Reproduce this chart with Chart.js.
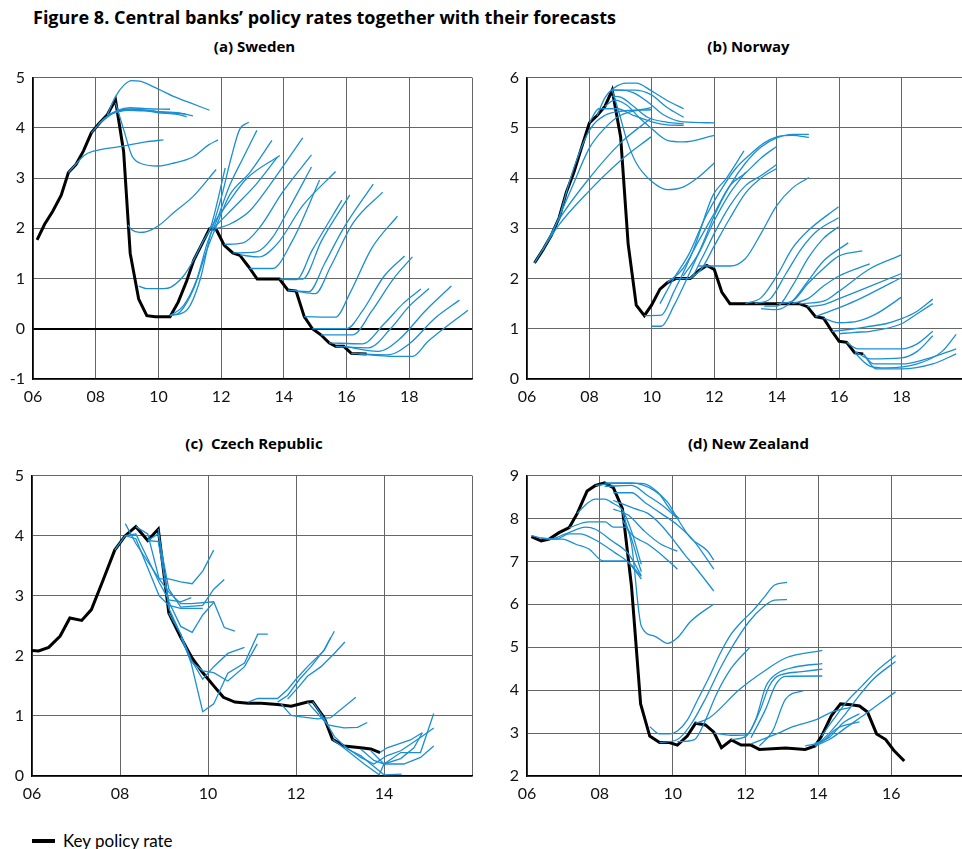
<!DOCTYPE html>
<html>
<head>
<meta charset="utf-8">
<script src="https://cdn.jsdelivr.net/npm/chart.js@4.4.1/dist/chart.umd.min.js"></script>
<style>
  html, body { margin: 0; padding: 0; background: #fff; width: 962px; height: 849px; overflow: hidden; }
  body { position: relative; font-family: Lato, "Open Sans", sans-serif; color: #000; }
  canvas { position: absolute; }
  .fig-title { position: absolute; left: 33px; top: 5px; font-family: "Open Sans", sans-serif; font-size: 18px; font-weight: bold; white-space: nowrap; }
  .panel-title { position: absolute; text-align: center; font-family: "Open Sans", sans-serif; font-size: 15px; font-weight: bold; white-space: pre; }
  #legend { position: absolute; left: 32px; top: 830px; font-size: 17px; display: flex; align-items: center; }
  #legend span.swatch { display: inline-block; width: 23px; height: 4px; background: #000; margin-right: 8px; }
</style>
</head>
<body>
<div class="fig-title">Figure 8. Central banks’ policy rates together with their forecasts</div>
<div class="panel-title" style="left:33px;width:443px;top:36px">(a) Sweden</div>
<div class="panel-title" style="left:527px;width:443px;top:36px">(b) Norway</div>
<div class="panel-title" style="left:32px;width:444px;top:433px">(c)  Czech Republic</div>
<div class="panel-title" style="left:527px;width:443px;top:433px">(d) New Zealand</div>

<canvas id="chartSe" width="480" height="350" style="left:0;top:60px"></canvas>
<canvas id="chartNo" width="482" height="350" style="left:490px;top:60px"></canvas>
<canvas id="chartCz" width="480" height="350" style="left:0;top:458px"></canvas>
<canvas id="chartNz" width="482" height="350" style="left:490px;top:458px"></canvas>

<div id="legend"><span class="swatch"></span>Key policy rate</div>

<script>
// ─── DATA ─────────────────────────────────────────────────────────
// x = year (6 = 2006), y = rate in per cent

// labelled years on each x axis
const seXLabels = [6, 8, 10, 12, 14, 16, 18];
const noXLabels = [6, 8, 10, 12, 14, 16, 18];
const czXLabels = [6, 8, 10, 12, 14];
const nzXLabels = [6, 8, 10, 12, 14, 16];

// (a) Sweden
const seKey = [
  [6.13,1.77],[6.37,2.08],[6.63,2.34],[6.9,2.66],[7.13,3.11],[7.37,3.27],[7.61,3.54],[7.86,3.9],
  [8.1,4.08],[8.37,4.26],[8.63,4.56],[8.89,3.53],[9.1,1.5],[9.37,0.59],[9.63,0.26],[9.9,0.24],
  [10.37,0.24],[10.63,0.53],[10.9,0.95],[11.13,1.37],[11.39,1.69],[11.63,1.99],[11.84,1.98],
  [12.1,1.66],[12.37,1.51],[12.6,1.46],[12.87,1.24],[13.15,0.99],[13.86,0.99],[14.13,0.77],
  [14.39,0.75],[14.65,0.24],[14.91,0.0],[15.18,-0.12],[15.44,-0.28],[15.65,-0.35],[15.91,-0.35],
  [16.15,-0.49],[16.64,-0.5]
];
const seForecasts = [
  [[8.37,4.26],[8.63,4.62],[8.9,4.85],[9.15,4.94],[9.4,4.93],[9.9,4.8],[10.5,4.62],[11.0,4.5],[11.63,4.35]],
  [[7.86,3.9],[8.3,4.2],[8.7,4.35],[9.1,4.4],[9.6,4.38],[10.37,4.37]],
  [[8.1,4.08],[8.5,4.28],[9.0,4.37],[9.6,4.35],[10.3,4.3],[10.84,4.28]],
  [[8.1,4.08],[8.6,4.3],[9.2,4.37],[10.0,4.3],[10.6,4.27],[10.9,4.22]],
  [[8.37,4.26],[9.0,4.35],[9.8,4.33],[10.6,4.3],[11.1,4.24]],
  [[7.13,3.11],[7.4,3.3],[7.63,3.45],[7.9,3.53],[8.8,3.63],[9.6,3.72],[10.16,3.76]],
  [[8.63,4.5],[8.9,3.95],[9.15,3.45],[9.4,3.3],[10.0,3.24],[10.5,3.3],[11.1,3.42],[11.6,3.66],[11.9,3.76]],
  [[9.03,2.07],[9.15,1.97],[9.4,1.92],[9.6,1.93],[10.0,2.05],[10.5,2.32],[11.1,2.63],[11.84,3.17]],
  [[9.37,0.85],[9.63,0.8],[10.16,0.8],[10.4,0.83],[10.8,1.05],[11.12,1.37],[11.43,1.75],[11.66,2.01],[12.13,3.2]],
  [[10.37,0.26],[10.9,0.37],[11.33,0.98],[11.64,1.82],[12.0,2.6],[12.33,3.43],[12.59,3.97],[12.88,4.11]],
  [[10.37,0.26],[10.8,0.46],[11.22,0.98],[11.58,1.75],[11.85,2.14],[12.27,2.85],[12.7,3.4],[13.14,3.95]],
  [[10.37,0.26],[10.7,0.34],[11.12,0.79],[11.54,1.56],[11.85,2.05],[12.27,2.66],[12.9,3.1],[13.62,3.75]],
  [[11.63,1.99],[12.17,2.46],[12.8,2.98],[13.87,3.45]],
  [[11.75,2.0],[12.38,2.4],[13.12,2.88],[13.8,3.42]],
  [[11.84,1.99],[12.27,2.08],[12.9,2.34],[13.54,2.85],[14.6,3.8]],
  [[12.1,1.68],[12.7,1.71],[13.22,2.01],[13.96,2.72],[14.88,3.46]],
  [[12.37,1.51],[13.12,1.53],[13.64,1.82],[14.17,2.4],[14.88,3.22]],
  [[12.6,1.47],[13.2,1.43],[13.8,1.7],[14.6,2.45],[15.65,3.13]],
  [[12.9,1.2],[13.64,1.2],[14.27,1.75],[15.14,2.96]],
  [[13.86,0.99],[14.4,0.98],[14.9,1.56],[15.85,2.56]],
  [[13.9,0.99],[14.6,0.99],[15.2,1.75],[16.1,2.66]],
  [[14.13,0.77],[14.8,0.74],[15.3,1.3],[15.9,2.0],[16.85,2.88]],
  [[14.39,0.75],[15.0,0.7],[15.5,1.25],[16.2,2.1],[17.15,2.72]],
  [[14.65,0.24],[15.65,0.23],[16.1,0.7],[16.8,1.6],[17.62,2.24]],
  [[14.91,0.0],[16.0,0.0],[16.5,0.35],[17.2,1.05],[17.85,1.45]],
  [[15.18,-0.12],[16.2,-0.12],[16.8,0.35],[17.5,1.0],[18.1,1.43]],
  [[15.44,-0.28],[16.5,-0.3],[17.2,0.1],[17.8,0.5],[18.37,0.79]],
  [[15.65,-0.35],[16.7,-0.38],[17.4,0.0],[18.0,0.45],[18.63,0.8]],
  [[15.91,-0.35],[17.0,-0.45],[17.7,-0.2],[18.5,0.35],[19.34,0.85]],
  [[16.15,-0.49],[17.3,-0.52],[18.0,-0.3],[18.8,0.2],[19.6,0.57]],
  [[16.4,-0.5],[17.5,-0.55],[18.1,-0.55],[18.6,-0.25],[19.87,0.37]]
];

// (b) Norway
const noKey = [
  [6.24,2.31],[6.5,2.56],[6.77,2.85],[7.03,3.21],[7.26,3.72],[7.5,4.11],[7.74,4.59],[8.0,5.1],
  [8.24,5.24],[8.5,5.43],[8.73,5.75],[9.0,4.82],[9.24,2.69],[9.5,1.47],[9.76,1.26],[9.99,1.47],
  [10.26,1.79],[10.5,1.92],[10.76,2.0],[11.23,2.0],[11.49,2.15],[11.76,2.26],[12.0,2.18],
  [12.24,1.73],[12.5,1.5],[14.72,1.5],[14.98,1.44],[15.24,1.24],[15.5,1.21],[15.77,0.95],
  [16.0,0.75],[16.24,0.73],[16.5,0.52],[16.77,0.5]
];
const noForecasts = [
  [[8.24,5.24],[8.5,5.6],[8.8,5.8],[9.2,5.89],[9.5,5.89],[10.0,5.73],[10.5,5.54],[11.02,5.38]],
  [[8.73,5.75],[9.45,5.75],[9.97,5.66],[10.5,5.4],[11.02,5.21]],
  [[8.73,5.63],[9.0,5.61],[9.35,5.46],[9.86,5.21],[10.5,5.11],[11.02,5.08]],
  [[8.0,5.1],[8.3,5.38],[8.9,5.38],[9.4,5.25],[10.0,5.12],[10.5,5.06],[11.02,5.05]],
  [[8.73,5.75],[8.95,5.3],[9.2,4.75],[9.5,4.3],[10.0,3.93],[10.5,3.77],[11.0,3.82],[11.5,4.02],[12.0,4.3]],
  [[8.5,5.43],[8.8,5.55],[9.2,5.45],[9.6,5.2],[10.0,4.98],[10.5,4.75],[11.0,4.72],[12.0,4.85]],
  [[8.73,5.75],[9.0,5.75],[9.4,5.7],[9.9,5.5],[10.4,5.25],[11.0,5.12],[12.0,5.1]],
  [[6.24,2.31],[7.0,3.05],[8.0,3.75],[9.0,4.35],[9.97,4.82]],
  [[6.5,2.56],[7.0,3.15],[8.0,4.0],[9.0,4.7],[9.97,5.19]],
  [[6.77,2.85],[7.5,3.9],[8.0,4.6],[8.5,5.0],[9.0,5.25],[9.97,5.4]],
  [[7.03,3.21],[7.5,4.2],[8.0,4.95],[8.5,5.25],[9.0,5.33],[9.97,5.36]],
  [[9.76,1.26],[10.3,1.27],[10.7,1.73],[11.33,2.57],[11.96,3.66],[12.38,3.99],[12.95,4.54]],
  [[9.99,1.05],[10.3,1.05],[10.7,1.45],[11.2,2.1],[11.6,2.65],[12.0,3.25],[12.5,3.85],[13.0,4.3],[13.5,4.62],[14.0,4.8],[14.5,4.87],[15.03,4.87]],
  [[10.26,1.5],[10.7,2.0],[11.2,2.5],[11.7,3.2],[12.2,3.75],[12.7,4.2],[13.2,4.5],[13.6,4.7],[14.0,4.82],[14.5,4.85],[15.03,4.81]],
  [[10.5,1.92],[11.0,2.2],[11.5,2.75],[12.0,3.3],[12.5,3.85],[13.0,4.1],[13.5,4.4],[14.0,4.63]],
  [[10.76,2.0],[11.2,2.0],[11.6,2.4],[12.0,2.9],[12.5,3.45],[13.0,3.85],[13.5,4.05],[14.0,4.27]],
  [[11.23,2.0],[11.6,2.2],[12.0,2.65],[12.5,3.2],[13.0,3.7],[13.5,4.0],[14.0,4.19]],
  [[11.0,2.05],[11.5,2.5],[12.0,3.15],[12.5,3.7],[13.01,4.12]],
  [[11.49,2.25],[12.5,2.25],[13.0,2.4],[13.5,2.9],[14.0,3.45],[14.5,3.8],[15.03,4.01]],
  [[13.0,1.5],[13.5,1.62],[14.0,2.05],[14.5,2.6],[15.0,2.95],[15.98,3.43]],
  [[13.3,1.5],[13.8,1.6],[14.3,2.1],[14.8,2.6],[15.3,2.95],[15.98,3.21]],
  [[13.6,1.45],[14.0,1.45],[14.5,1.85],[15.0,2.4],[15.5,2.8],[15.98,3.03]],
  [[13.5,1.4],[14.0,1.38],[14.5,1.55],[15.0,1.95],[15.5,2.35],[16.29,2.71]],
  [[14.0,1.5],[14.5,1.55],[15.0,1.9],[15.5,2.2],[16.0,2.45],[16.74,2.55]],
  [[14.5,1.5],[15.0,1.6],[15.5,1.85],[16.0,2.05],[16.98,2.29]],
  [[14.72,1.5],[15.5,1.55],[16.0,1.75],[17.0,2.2],[18.0,2.47]],
  [[14.98,1.44],[15.5,1.48],[16.0,1.6],[17.0,1.85],[18.0,2.1]],
  [[15.24,1.24],[16.0,1.42],[16.5,1.55],[17.0,1.7],[18.0,2.02]],
  [[15.5,1.21],[16.0,1.12],[16.6,1.15],[17.2,1.3],[18.0,1.63]],
  [[15.77,0.95],[16.5,1.0],[17.0,1.05],[17.5,1.1],[18.0,1.2],[18.5,1.35],[19.0,1.59]],
  [[16.0,0.9],[16.5,0.93],[17.0,0.95],[18.0,1.1],[18.5,1.3],[19.0,1.5]],
  [[16.24,0.73],[16.6,0.6],[17.0,0.6],[18.0,0.6],[18.5,0.7],[19.0,0.95]],
  [[16.5,0.55],[17.0,0.4],[18.0,0.42],[18.5,0.55],[19.0,0.86]],
  [[16.5,0.52],[17.0,0.25],[17.5,0.22],[18.5,0.3],[19.3,0.55],[19.75,0.89]],
  [[16.77,0.5],[17.1,0.3],[18.0,0.3],[18.8,0.4],[19.75,0.6]],
  [[16.77,0.5],[17.2,0.2],[18.0,0.2],[19.0,0.3],[19.75,0.5]]
];

// (c) Czech Republic
const czKey = [
  [6.0,2.09],[6.15,2.08],[6.38,2.14],[6.64,2.33],[6.86,2.63],[7.13,2.59],[7.35,2.77],[7.61,3.25],
  [7.88,3.76],[8.12,4.0],[8.36,4.15],[8.63,3.92],[8.87,4.11],[9.11,2.71],[9.38,2.31],[9.64,1.96],
  [9.86,1.74],[10.13,1.5],[10.35,1.31],[10.61,1.23],[10.91,1.21],[11.21,1.21],[11.58,1.19],
  [11.89,1.16],[12.26,1.23],[12.38,1.24],[12.64,0.97],[12.83,0.61],[13.09,0.5],[13.47,0.47],
  [13.7,0.45],[13.91,0.39]
];
const czForecasts = [
  [[8.12,4.2],[8.36,3.87],[8.89,3.28],[9.11,3.28],[9.38,3.23],[9.64,3.2],[9.88,3.41],[10.13,3.76]],
  [[7.88,3.76],[8.12,4.0],[8.36,4.03],[8.89,3.22],[9.11,2.93],[9.38,2.9],[9.62,2.97]],
  [[8.12,4.0],[8.36,3.95],[8.89,3.0],[9.11,2.84],[9.38,2.79],[9.88,2.79]],
  [[8.36,4.15],[8.63,4.03],[8.89,3.28],[9.11,3.06],[9.38,2.87],[9.62,2.87],[10.13,2.9],[10.37,2.47],[10.61,2.41]],
  [[8.63,3.92],[8.87,4.03],[9.11,3.11],[9.38,2.81],[9.88,2.84],[10.13,3.11],[10.37,3.27]],
  [[8.63,3.92],[8.87,3.9],[9.11,2.9],[9.38,2.49],[9.64,2.39],[9.88,2.68],[10.13,2.89]],
  [[8.87,4.11],[9.11,2.79],[9.38,2.36],[9.62,1.93],[9.88,1.61],[10.13,1.82],[10.45,2.04],[10.83,2.14]],
  [[9.11,2.71],[9.38,2.36],[9.62,1.87],[9.88,1.07],[10.13,1.2],[10.45,1.71],[10.83,1.88],[11.13,2.36],[11.36,2.36]],
  [[9.38,2.31],[9.62,1.9],[9.88,1.75],[10.13,1.72],[10.45,1.58],[10.83,1.82],[11.12,2.2]],
  [[10.91,1.23],[11.13,1.29],[11.58,1.29],[11.81,1.44],[12.0,1.61],[12.26,1.82],[12.64,2.09],[12.87,2.41]],
  [[11.58,1.23],[11.81,1.34],[12.08,1.61],[12.34,1.82],[12.63,2.09],[12.79,2.31]],
  [[11.81,1.28],[12.08,1.5],[12.26,1.66],[12.57,1.82],[12.87,2.04],[13.11,2.23]],
  [[11.66,1.2],[11.89,1.01],[12.08,0.99],[12.49,0.95],[12.79,0.97],[13.36,1.31]],
  [[12.26,1.23],[12.49,1.04],[12.72,0.85],[13.09,0.8],[13.4,0.81],[13.62,0.89]],
  [[12.38,1.24],[12.64,0.95],[12.87,0.66],[13.17,0.45],[13.47,0.34],[13.7,0.2],[14.0,0.02],[14.4,0.03]],
  [[12.83,0.61],[13.17,0.42],[13.55,0.2],[13.89,0.02],[14.0,0.2],[14.38,0.39],[14.83,0.39],[15.13,1.04]],
  [[13.09,0.5],[13.47,0.31],[13.77,0.2],[14.07,0.34],[14.38,0.42],[14.83,0.64],[15.13,0.8]],
  [[13.47,0.45],[13.77,0.26],[14.0,0.2],[14.38,0.29],[14.68,0.47],[14.87,0.72]],
  [[13.7,0.42],[14.0,0.2],[14.45,0.2],[14.83,0.31],[15.13,0.5]],
  [[13.91,0.39],[14.07,0.47],[14.6,0.6],[14.87,0.72]]
];

// (d) New Zealand
const nzKey = [
  [6.12,7.58],[6.39,7.48],[6.61,7.52],[6.88,7.67],[7.16,7.79],[7.38,8.12],[7.65,8.64],[7.88,8.77],
  [8.13,8.83],[8.37,8.72],[8.62,8.23],[8.87,6.42],[9.12,3.68],[9.37,2.93],[9.64,2.78],[9.91,2.78],
  [10.13,2.72],[10.4,2.93],[10.63,3.23],[10.9,3.19],[11.13,3.02],[11.34,2.66],[11.61,2.84],
  [11.88,2.72],[12.15,2.72],[12.38,2.62],[13.1,2.65],[13.64,2.62],[13.91,2.7],[14.09,2.93],
  [14.36,3.41],[14.61,3.68],[14.9,3.66],[15.13,3.63],[15.35,3.49],[15.6,2.98],[15.85,2.85],
  [16.07,2.6],[16.36,2.35]
];
const nzForecasts = [
  [[7.88,8.77],[8.42,8.82],[9.14,8.82],[9.59,8.61],[9.95,8.19],[10.18,8.0]],
  [[8.13,8.83],[8.87,8.83],[9.5,8.65],[9.86,8.38],[10.13,8.0],[10.49,7.55],[10.95,7.25],[11.13,7.03]],
  [[8.13,8.75],[8.87,8.77],[9.32,8.53],[9.77,8.27],[10.13,8.0]],
  [[8.37,8.6],[8.87,8.6],[9.23,8.38],[9.68,8.12],[10.13,7.85],[10.58,7.48],[11.13,6.82]],
  [[8.37,8.42],[8.96,8.23],[9.32,8.12],[9.68,7.85],[10.04,7.48],[10.31,7.18],[10.68,6.8],[11.13,6.31]],
  [[8.37,8.22],[8.78,8.08],[9.23,7.7],[9.68,7.4],[10.13,7.24]],
  [[8.62,7.97],[8.87,7.63],[9.32,7.4],[9.77,7.1],[10.13,6.82]],
  [[7.38,8.12],[7.65,8.35],[7.88,8.45],[8.13,8.45],[8.37,8.35],[8.62,8.2],[8.87,7.7],[9.14,6.93]],
  [[7.16,7.79],[7.7,7.92],[8.15,7.92],[8.37,7.8],[8.69,7.8],[9.14,6.76]],
  [[6.12,7.6],[6.61,7.52],[7.06,7.64],[7.61,7.8],[7.88,7.75],[8.33,7.48],[8.78,7.18],[9.14,6.67]],
  [[6.39,7.55],[6.8,7.52],[7.16,7.64],[7.45,7.64],[7.88,7.5],[8.42,7.2],[8.78,6.98],[9.14,6.59]],
  [[6.61,7.52],[6.97,7.52],[7.34,7.4],[7.7,7.29],[8.1,7.01],[8.69,7.01],[9.14,6.65]],
  [[8.62,8.15],[8.87,7.4],[9.14,5.49],[9.5,5.26],[9.86,5.09],[10.13,5.22],[10.49,5.6],[11.13,6.01]],
  [[9.37,3.15],[9.64,2.98],[9.91,2.98],[10.13,3.05],[10.4,3.3],[10.7,3.8],[11.0,4.3],[11.3,4.85],[11.6,5.3],[11.9,5.6],[12.2,5.85],[12.5,6.15],[12.8,6.45],[13.14,6.51]],
  [[9.64,2.78],[10.13,2.85],[10.5,3.2],[10.9,3.8],[11.3,4.5],[11.7,5.1],[12.1,5.6],[12.5,5.95],[12.8,6.1],[13.14,6.11]],
  [[10.13,2.8],[10.6,2.85],[10.9,3.3],[11.2,3.9],[11.6,4.5],[12.11,4.99]],
  [[10.63,3.23],[11.0,3.35],[11.84,4.02],[12.56,4.47],[13.1,4.75],[14.11,4.93]],
  [[11.13,3.0],[11.6,2.95],[12.02,2.96],[12.29,3.34],[12.56,4.09],[12.87,4.39],[13.37,4.54],[14.11,4.62]],
  [[11.61,2.85],[12.02,2.93],[12.38,3.49],[12.65,4.09],[12.87,4.32],[13.55,4.43],[14.11,4.49]],
  [[12.15,2.89],[12.56,3.57],[12.83,4.13],[13.1,4.32],[14.11,4.33]],
  [[12.38,2.7],[12.74,3.04],[13.1,3.79],[13.59,3.99]],
  [[12.15,2.75],[12.9,3.0],[13.3,3.15],[13.9,3.3],[14.4,3.5],[14.9,3.6]],
  [[14.09,2.93],[14.4,3.3],[14.8,3.75],[15.2,4.1],[15.6,4.45],[16.12,4.81]],
  [[13.91,2.7],[14.3,3.0],[14.7,3.4],[15.1,3.85],[15.5,4.25],[16.12,4.67]],
  [[13.91,2.7],[14.3,2.85],[14.8,3.15],[15.3,3.45],[15.7,3.7],[16.12,3.96]],
  [[13.64,2.7],[14.1,2.8],[14.5,3.1],[15.13,3.26]],
  [[13.9,2.75],[14.3,2.9],[14.7,3.25],[15.13,3.45]]
];

// ─── STYLE ────────────────────────────────────────────────────────
const BLUE = "#1b8fd2";
const GRID = "#666666";
const FONT = { family: "Lato, 'Open Sans', sans-serif", size: 16 };

function range(a, b) {
  const out = [];
  for (let v = a; v <= b; v++) out.push(v);
  return out;
}

function toXY(points) {
  return points.map((p) => ({ x: p[0], y: p[1] }));
}

// ─── CHART BUILDER ────────────────────────────────────────────────
function buildPanel(canvasId, key, forecasts, xLabels, cfg) {
  const ctx = document.getElementById(canvasId).getContext("2d");

  const datasets = forecasts.map((f) => ({
    data: toXY(f),
    borderColor: BLUE,
    borderWidth: 1.3,
    pointRadius: 0,
    tension: cfg.smooth ? 0.4 : 0,
    cubicInterpolationMode: cfg.smooth ? "monotone" : "default",
  }));
  datasets.push({
    data: toXY(key),
    borderColor: "#000",
    borderWidth: 3,
    pointRadius: 0,
    tension: 0,
  });

  const xGrid = [];
  for (let v = 6; v <= cfg.xMax; v += 2) xGrid.push(v);
  const yGrid = range(cfg.yMin, cfg.yMax);

  return new Chart(ctx, {
    type: "line",
    data: { datasets },
    options: {
      responsive: false,
      animation: false,
      devicePixelRatio: 1,
      layout: { padding: { top: 9, right: cfg.padRight, left: 0, bottom: 0 } },
      plugins: { legend: { display: false }, tooltip: { enabled: false } },
      scales: {
        x: {
          type: "linear",
          min: 6,
          max: cfg.xMax,
          afterBuildTicks: (axis) => { axis.ticks = xGrid.map((v) => ({ value: v })); },
          afterFit: (axis) => { axis.height = cfg.xHeight; },
          ticks: {
            autoSkip: false,
            maxRotation: 0,
            padding: 8,
            color: "#111",
            font: FONT,
            callback: (v) => (xLabels.includes(v) ? String(v).padStart(2, "0") : ""),
          },
          grid: { color: GRID, lineWidth: 1, drawTicks: false },
          border: { color: "#000", width: 1.5 },
        },
        y: {
          min: cfg.yMin,
          max: cfg.yMax,
          afterBuildTicks: (axis) => { axis.ticks = yGrid.map((v) => ({ value: v })); },
          afterFit: (axis) => { axis.width = cfg.yWidth; },
          ticks: { padding: 8, color: "#111", font: FONT, callback: (v) => String(v) },
          grid: {
            drawTicks: false,
            color: (c) => (c.tick && c.tick.value === 0 && cfg.yMin < 0 ? "#000" : GRID),
            lineWidth: (c) => (c.tick && c.tick.value === 0 && cfg.yMin < 0 ? 2 : 1),
          },
          border: { color: "#000", width: 1.5 },
        },
      },
    },
  });
}

// ─── INIT ─────────────────────────────────────────────────────────
buildPanel("chartSe", seKey, seForecasts, seXLabels, { xMax: 20, yMin: -1, yMax: 5, yWidth: 33, xHeight: 31, padRight: 4, smooth: true });
buildPanel("chartNo", noKey, noForecasts, noXLabels, { xMax: 20, yMin: 0, yMax: 6, yWidth: 37, xHeight: 31, padRight: 2, smooth: true });
buildPanel("chartCz", czKey, czForecasts, czXLabels, { xMax: 16, yMin: 0, yMax: 5, yWidth: 32, xHeight: 32, padRight: 4, smooth: false });
buildPanel("chartNz", nzKey, nzForecasts, nzXLabels, { xMax: 18, yMin: 2, yMax: 9, yWidth: 37, xHeight: 32, padRight: 2, smooth: true });
</script>
</body>
</html>
